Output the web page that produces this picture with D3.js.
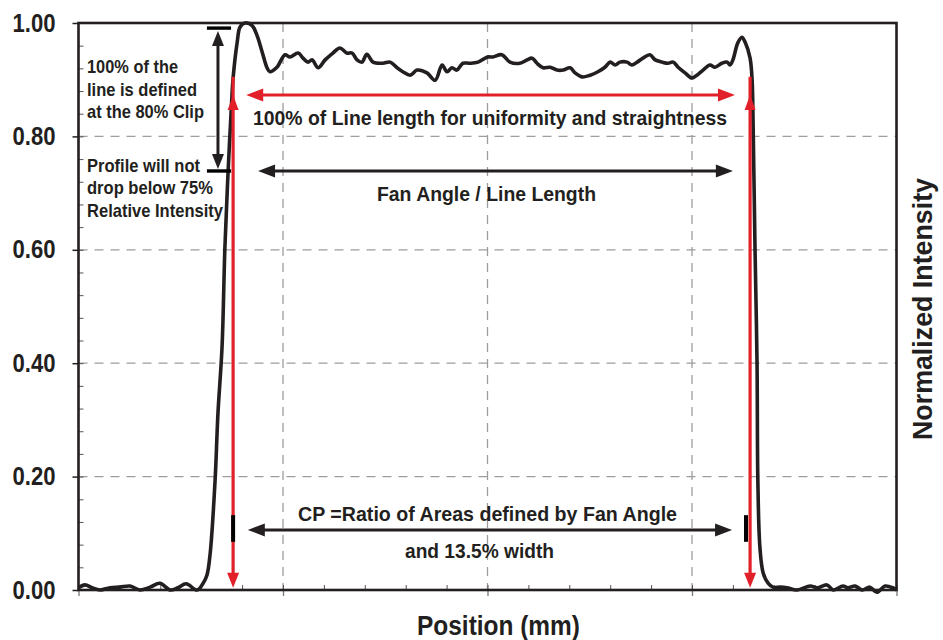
<!DOCTYPE html>
<html>
<head>
<meta charset="utf-8">
<script src="https://cdnjs.cloudflare.com/ajax/libs/d3/7.8.5/d3.min.js"></script>
<style>
  body { margin: 0; background: #fff; }
  text { font-family: "Liberation Sans Narrow", "Arial Narrow", "Liberation Sans", sans-serif; font-weight: bold; fill: #231f20; }
</style>
</head>
<body>
<script>
// line profile, position across the line (mm) vs normalized intensity
var position = [-10.0, -9.84, -9.67, -9.47, -9.23, -8.99, -8.74, -8.50, -8.25, -8.01,
  -7.76, -7.57, -7.37, -7.10, -6.96, -6.86, -6.78, -6.66, -6.59, -6.49,
  -6.42, -6.34, -6.25, -6.22, -6.12, -6.05, -5.93, -5.76, -5.64, -5.51,
  -5.39, -5.32, -5.15, -4.95, -4.83, -4.63, -4.51, -4.39, -4.29, -4.14,
  -3.97, -3.78, -3.61, -3.44, -3.31, -3.19, -3.07, -2.95, -2.80, -2.56,
  -2.38, -2.21, -2.07, -1.89, -1.72, -1.48, -1.28, -1.11, -0.99, -0.87,
  -0.75, -0.60, -0.43, -0.23, 0.00, 0.13, 0.35, 0.55, 0.79, 0.97,
  1.09, 1.21, 1.36, 1.53, 1.70, 1.85, 2.02, 2.14, 2.31, 2.51,
  2.70, 2.87, 3.00, 3.12, 3.24, 3.41, 3.53, 3.66, 3.80, 3.97,
  4.10, 4.27, 4.41, 4.54, 4.66, 4.83, 5.00, 5.12, 5.27, 5.44,
  5.56, 5.73, 5.86, 5.93, 6.00, 6.12, 6.22, 6.30, 6.42, 6.47,
  6.49, 6.54, 6.59, 6.61, 6.66, 6.74, 6.86, 6.98, 7.15, 7.32,
  7.57, 7.89, 8.06, 8.30, 8.45, 8.69, 8.81, 8.99, 9.16, 9.35,
  9.52, 9.72, 9.91, 10.0];
var intensity = [0.004, 0.009, 0.004, 0.000, 0.004, 0.005, 0.007, 0.000, 0.005, 0.012,
  0.000, 0.004, 0.011, 0.000, 0.011, 0.026, 0.065, 0.194, 0.312, 0.429,
  0.605, 0.741, 0.869, 0.903, 0.966, 0.993, 1.000, 0.996, 0.979, 0.949,
  0.921, 0.914, 0.922, 0.944, 0.940, 0.947, 0.938, 0.931, 0.935, 0.921,
  0.935, 0.947, 0.956, 0.947, 0.947, 0.935, 0.931, 0.945, 0.931, 0.929,
  0.931, 0.921, 0.914, 0.908, 0.917, 0.912, 0.899, 0.926, 0.914, 0.921,
  0.917, 0.929, 0.929, 0.931, 0.940, 0.940, 0.944, 0.931, 0.929, 0.935,
  0.938, 0.929, 0.921, 0.922, 0.917, 0.917, 0.921, 0.912, 0.905, 0.908,
  0.914, 0.922, 0.931, 0.926, 0.931, 0.931, 0.926, 0.931, 0.938, 0.944,
  0.935, 0.931, 0.929, 0.931, 0.922, 0.912, 0.903, 0.908, 0.917, 0.926,
  0.922, 0.929, 0.931, 0.926, 0.935, 0.965, 0.975, 0.966, 0.938, 0.899,
  0.841, 0.605, 0.400, 0.194, 0.076, 0.030, 0.012, 0.005, 0.005, 0.004,
  0.000, 0.007, 0.004, 0.009, 0.000, 0.007, 0.004, 0.007, 0.000, 0.005,
  -0.004, 0.007, 0.004, 0.000];

var yTicks = [0, 0.2, 0.4, 0.6, 0.8, 1.0];
var xGrid = [-5, 0, 5];

// annotation anchors (data units)
var clipX = [-6.22, 6.42];      // red clip lines
var clipTop = 0.905, clipTip = 0.873;
var uniformArrow = {y: 0.873, x0: -5.90, x1: 6.05};
var fanArrow = {y: 0.739, x0: -5.61, x1: 6.00};
var cpArrow = {y: 0.106, x0: -5.86, x1: 5.98};
var bracket = {x: -6.59, x0: -6.86, x1: -6.27, top: 0.991, bottom: 0.739};
var widthMarks = [-6.22, 6.32], markY = [0.085, 0.132];

var W = 943, H = 640;
var m = {left: 78.5, right: 46.5, top: 23, bottom: 50};

var svg = d3.select("body").append("svg")
  .attr("width", W).attr("height", H);

var x = d3.scaleLinear().domain([-10, 10]).range([m.left, W - m.right]);
var y = d3.scaleLinear().domain([0, 1]).range([H - m.bottom, m.top]);

var ink = "#231f20", red = "#e2202a";

// dashed grid
svg.append("g").selectAll("line").data(xGrid).join("line")
  .attr("x1", d => x(d)).attr("x2", d => x(d))
  .attr("y1", y(1)).attr("y2", y(0))
  .attr("stroke", "#9d9d9d").attr("stroke-width", 1.3).attr("stroke-dasharray", "9,7");
svg.append("g").selectAll("line").data(yTicks.slice(1, 5)).join("line")
  .attr("x1", x(-10)).attr("x2", x(10))
  .attr("y1", d => y(d)).attr("y2", d => y(d))
  .attr("stroke", "#9d9d9d").attr("stroke-width", 1.3).attr("stroke-dasharray", "9,7");

// minor ticks (inside) and major ticks (outside)
var axL = d3.axisLeft(y).tickValues(d3.range(0, 1.001, 0.04)).tickSize(-5).tickFormat("");
svg.append("g").attr("transform", "translate(" + m.left + ",0)").call(axL)
  .call(g => g.select(".domain").remove())
  .selectAll("line").attr("stroke", "#555").attr("stroke-width", 1);
var axB = d3.axisBottom(x).tickValues(d3.range(-10, 10.001, 1)).tickSize(-5).tickFormat("");
svg.append("g").attr("transform", "translate(0," + y(0) + ")").call(axB)
  .call(g => g.select(".domain").remove())
  .selectAll("line").attr("stroke", "#555").attr("stroke-width", 1);
svg.append("g").attr("transform", "translate(" + m.left + ",0)")
  .call(d3.axisLeft(y).tickValues(yTicks).tickSize(6).tickPadding(17).tickFormat(d3.format(".2f")))
  .call(g => g.select(".domain").remove())
  .call(g => g.selectAll("line").attr("stroke", ink).attr("stroke-width", 1.5))
  .call(g => g.selectAll("text").attr("font-size", 25).attr("fill", ink)
    .attr("textLength", 43).attr("lengthAdjust", "spacingAndGlyphs")
    .attr("font-family", null));
svg.append("g").attr("transform", "translate(0," + y(0) + ")")
  .call(d3.axisBottom(x).tickValues([-10, -5, 0, 5, 10]).tickSize(6).tickFormat(""))
  .call(g => g.select(".domain").remove())
  .selectAll("line").attr("stroke", "#777").attr("stroke-width", 1.3);

// profile
var line = d3.line().x((d, i) => x(position[i])).y(d => y(d)).curve(d3.curveCatmullRom.alpha(0.5));
svg.append("path").datum(intensity).attr("d", line)
  .attr("fill", "none").attr("stroke", ink).attr("stroke-width", 3.6).attr("stroke-linejoin", "round");

// frame
svg.append("rect").attr("x", x(-10)).attr("y", y(1)).attr("width", x(10) - x(-10)).attr("height", y(0) - y(1))
  .attr("fill", "none").attr("stroke", ink).attr("stroke-width", 2.6);

function head(px, py, dir, col, len, hw) {
  var p;
  if (dir == "left") p = [[px, py], [px + len, py - hw], [px + len, py + hw]];
  else if (dir == "right") p = [[px, py], [px - len, py - hw], [px - len, py + hw]];
  else if (dir == "up") p = [[px, py], [px - hw, py + len], [px + hw, py + len]];
  else p = [[px, py], [px - hw, py - len], [px + hw, py - len]];
  svg.append("path").attr("d", "M" + p.join("L") + "Z").attr("fill", col);
}
function hArrow(a, col) {
  svg.append("line").attr("x1", x(a.x0) + 6).attr("x2", x(a.x1) - 6).attr("y1", y(a.y)).attr("y2", y(a.y))
    .attr("stroke", col).attr("stroke-width", 3);
  head(x(a.x0), y(a.y), "left", col, 17, 6.5);
  head(x(a.x1), y(a.y), "right", col, 17, 6.5);
}

// red clip lines
clipX.forEach(function(cx) {
  svg.append("line").attr("x1", x(cx)).attr("x2", x(cx)).attr("y1", y(clipTop)).attr("y2", y(0) - 12)
    .attr("stroke", red).attr("stroke-width", 3.2);
  head(x(cx), y(clipTip), "up", red, 15, 5.5);
  head(x(cx), y(0.004), "down", red, 15, 6);
});
hArrow(uniformArrow, red);
hArrow(fanArrow, ink);
hArrow(cpArrow, ink);

// 13.5% width marks
widthMarks.forEach(function(wx) {
  svg.append("line").attr("x1", x(wx)).attr("x2", x(wx)).attr("y1", y(markY[0])).attr("y2", y(markY[1]))
    .attr("stroke", "#000").attr("stroke-width", 4);
});

// 80% clip / 75% bracket
svg.append("line").attr("x1", x(bracket.x)).attr("x2", x(bracket.x))
  .attr("y1", y(bracket.top) + 8).attr("y2", y(bracket.bottom) - 8)
  .attr("stroke", ink).attr("stroke-width", 3);
head(x(bracket.x), y(bracket.top) + 3, "up", ink, 15, 6);
head(x(bracket.x), y(bracket.bottom) - 2, "down", ink, 15, 6);
[bracket.top, bracket.bottom].forEach(function(by) {
  svg.append("line").attr("x1", x(bracket.x0)).attr("x2", x(bracket.x1)).attr("y1", y(by)).attr("y2", y(by))
    .attr("stroke", "#000").attr("stroke-width", 3.4);
});

// texts, squeezed to the narrow face of the original
function label(t, px, py, size, len, anchor) {
  return svg.append("text").attr("x", px).attr("y", py).attr("font-size", size)
    .attr("text-anchor", anchor || "start")
    .attr("textLength", len).attr("lengthAdjust", "spacingAndGlyphs").text(t);
}
[["100% of the", 73, 91], ["line is defined", 96, 110], ["at the 80% Clip", 118, 117],
 ["Profile will not", 172, 113], ["drop below 75%", 194, 126], ["Relative Intensity", 217, 136]]
  .forEach(d => label(d[0], 87, d[1], 19, d[2]));
label("100% of Line length for uniformity and straightness", 253, 125, 21, 474);
label("Fan Angle / Line Length", 486.5, 201, 21, 219, "middle");
label("CP =Ratio of Areas defined by Fan Angle", 298, 521, 21, 379);
label("and 13.5% width", 479.5, 558, 21, 149, "middle");
label("Position (mm)", 498.5, 635, 28, 163, "middle");
svg.append("text").attr("transform", "translate(932,309) rotate(-90)")
  .attr("font-size", 28).attr("text-anchor", "middle")
  .attr("textLength", 262).attr("lengthAdjust", "spacingAndGlyphs").text("Normalized Intensity");
</script>
</body>
</html>
